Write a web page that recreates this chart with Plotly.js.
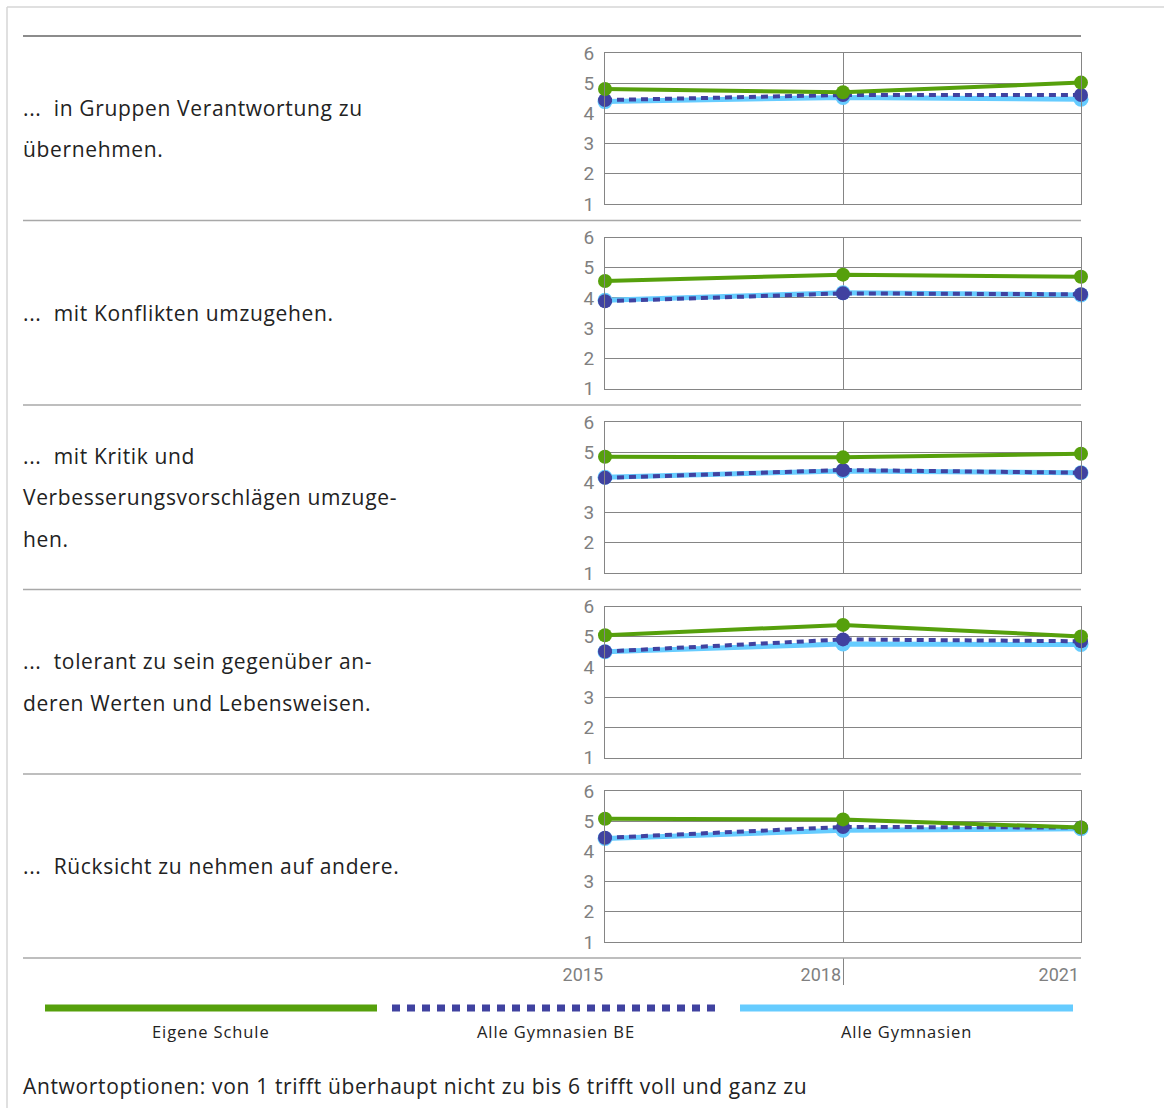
<!DOCTYPE html>
<html>
<head>
<meta charset="utf-8">
<script src="https://cdn.plot.ly/plotly-3.0.1.min.js"></script>
<style>
  html, body { margin: 0; padding: 0; background: #fff; }
  #chart { width: 1164px; height: 1108px; }
</style>
</head>
<body>
<div id="chart"></div>
<script>
// ---------- DATA ----------
const years = [2015, 2018, 2021];
const yTicks = [1, 2, 3, 4, 5, 6];
const seriesNames = ["Eigene Schule", "Alle Gymnasien BE", "Alle Gymnasien"];
const itemLabels = [
  ["...\u00a0\u00a0in Gruppen Verantwortung zu", "übernehmen."],
  ["...\u00a0\u00a0mit Konflikten umzugehen."],
  ["...\u00a0\u00a0mit Kritik und", "Verbesserungsvorschlägen umzuge-", "hen."],
  ["...\u00a0\u00a0tolerant zu sein gegenüber an-", "deren Werten und Lebensweisen."],
  ["...\u00a0\u00a0Rücksicht zu nehmen auf andere."]
];
const eigeneSchule = [
  [4.81, 4.70, 5.02],
  [4.56, 4.77, 4.70],
  [4.85, 4.83, 4.95],
  [5.05, 5.39, 5.01],
  [5.08, 5.06, 4.79]
];
const alleGymBE = [
  [4.44, 4.61, 4.61],
  [3.89, 4.15, 4.12],
  [4.15, 4.41, 4.32],
  [4.51, 4.91, 4.85],
  [4.45, 4.81, 4.79]
];
const alleGym = [
  [4.39, 4.53, 4.47],
  [3.92, 4.17, 4.10],
  [4.17, 4.38, 4.32],
  [4.50, 4.76, 4.74],
  [4.43, 4.70, 4.75]
];
const footnote = "Antwortoptionen: von 1 trifft überhaupt nicht zu bis 6 trifft voll und ganz zu";

// ---------- STYLE / LAYOUT ----------
const W = 1164, H = 1108;
const px = v => v / W;
const py = v => 1 - v / H;
const colors = ["#56a00c", "#4042a0", "#66ccff"];
const FONT = "'Open Sans', Roboto, sans-serif";
const TICKFONT = "Roboto, 'Open Sans', sans-serif";
const gridCol = "#858585";
const spaced = (t, ls) => '<span style="letter-spacing:' + ls + 'px">' + t + '</span>';

const plotLeft = 605, plotRight = 1081;
const panelTops = [53, 237.5, 422, 606.5, 791];
const panelH = 151;
const separators = [36, 220.5, 405, 589.5, 774, 958];
const textLeft = 21;

const traces = [];
const layout = {
  width: W, height: H,
  margin: {l: 0, r: 0, t: 0, b: 0},
  paper_bgcolor: "#fff",
  plot_bgcolor: "#fff",
  showlegend: false,
  font: {family: FONT, color: "#222"},
  shapes: [],
  annotations: []
};

panelTops.forEach((top, i) => {
  const n = i + 1;
  const xa = "x" + n, ya = "y" + n;
  const xk = "xaxis" + (n === 1 ? "" : n), yk = "yaxis" + (n === 1 ? "" : n);
  layout[xk] = {
    domain: [px(plotLeft), px(plotRight)],
    anchor: ya,
    range: [2015, 2021],
    tickvals: years,
    showticklabels: false,
    showgrid: true, gridcolor: gridCol, gridwidth: 1,
    showline: true, linecolor: gridCol, linewidth: 1, mirror: true,
    zeroline: false, ticks: "", fixedrange: true
  };
  layout[yk] = {
    domain: [py(top + panelH), py(top)],
    anchor: xa,
    range: [1, 6],
    tickvals: yTicks,
    ticktext: yTicks.map(String),
    showgrid: true, gridcolor: gridCol, gridwidth: 1,
    showline: true, linecolor: gridCol, linewidth: 1, mirror: true,
    zeroline: false, ticks: "",
    ticklabelstandoff: 6,
    tickfont: {family: TICKFONT, size: 19, color: "#808080"},
    fixedrange: true
  };
  traces.push({
    x: years, y: alleGym[i], xaxis: xa, yaxis: ya,
    type: "scatter", mode: "lines+markers", name: seriesNames[2],
    line: {color: colors[2], width: 5},
    marker: {color: colors[2], size: 15},
    cliponaxis: false, hoverinfo: "skip"
  });
  traces.push({
    x: years, y: alleGymBE[i], xaxis: xa, yaxis: ya,
    type: "scatter", mode: "lines+markers", name: seriesNames[1],
    line: {color: colors[1], width: 4, dash: "7px,5px"},
    marker: {color: colors[1], size: 14},
    cliponaxis: false, hoverinfo: "skip"
  });
  traces.push({
    x: years, y: eigeneSchule[i], xaxis: xa, yaxis: ya,
    type: "scatter", mode: "lines+markers", name: seriesNames[0],
    line: {color: colors[0], width: 4},
    marker: {color: colors[0], size: 14},
    cliponaxis: false, hoverinfo: "skip"
  });

  const rowMid = (separators[i] + separators[i + 1]) / 2;
  const lines = itemLabels[i];
  const lh = 41.5;
  lines.forEach((t, k) => {
    const yc = rowMid + (k - (lines.length - 1) / 2) * lh;
    layout.annotations.push({
      xref: "paper", yref: "paper", x: px(textLeft), y: py(yc),
      xanchor: "left", yanchor: "middle", showarrow: false,
      text: spaced(t, 0.65), font: {family: FONT, size: 21, color: "#222"}
    });
  });
});

// Year axis strip (below last separator)
layout.xaxis6 = {
  domain: [px(plotLeft), px(plotRight)],
  anchor: "y6",
  side: "top",
  range: [2015, 2021],
  tickvals: years,
  ticktext: years.map(String),
  showgrid: true, gridcolor: gridCol, gridwidth: 1,
  showline: false, zeroline: false, ticks: "",
  ticklabelposition: "inside left",
  ticklabeloverflow: "allow",
  ticklabelstandoff: 4,
  ticklabelshift: -2,
  tickfont: {family: TICKFONT, size: 18, color: "#808080"},
  fixedrange: true
};
layout.yaxis6 = {
  domain: [py(985), py(958)],
  anchor: "x6",
  range: [0, 1],
  showgrid: false, showline: false, zeroline: false,
  showticklabels: false, ticks: "", fixedrange: true
};
traces.push({x: [], y: [], xaxis: "x6", yaxis: "y6", type: "scatter", mode: "lines", showlegend: false, hoverinfo: "skip"});

separators.forEach((s, i) => {
  layout.shapes.push({
    type: "line", xref: "paper", yref: "paper",
    x0: px(23), x1: px(plotRight), y0: py(s), y1: py(s),
    line: {color: i === 0 ? "#666" : "#a8a8a8", width: 1.3}
  });
});

layout.shapes.push({type: "line", xref: "paper", yref: "paper", x0: px(7), x1: 1, y0: py(7), y1: py(7), line: {color: "#d6d6d6", width: 1.5}});
layout.shapes.push({type: "line", xref: "paper", yref: "paper", x0: px(7), x1: px(7), y0: py(7), y1: 0, line: {color: "#d6d6d6", width: 1.5}});

const legendSegs = [[45, 377], [392, 720], [740, 1073]];
const legendDash = ["solid", "8px,7px", "solid"];
legendSegs.forEach((seg, k) => {
  layout.shapes.push({
    type: "line", xref: "paper", yref: "paper",
    x0: px(seg[0]), x1: px(seg[1]), y0: py(1008), y1: py(1008),
    line: {color: colors[k], width: 7, dash: legendDash[k]}
  });
  layout.annotations.push({
    xref: "paper", yref: "paper", x: px((seg[0] + seg[1]) / 2), y: py(1031),
    xanchor: "center", yanchor: "middle", showarrow: false,
    text: spaced(seriesNames[k], 0.9), font: {family: FONT, size: 16.5, color: "#222"}
  });
});

layout.annotations.push({
  xref: "paper", yref: "paper", x: px(textLeft), y: py(1086),
  xanchor: "left", yanchor: "middle", showarrow: false,
  text: spaced(footnote, 0.65), font: {family: FONT, size: 21, color: "#222"}
});

Plotly.newPlot("chart", traces, layout, {displayModeBar: false, staticPlot: true});
</script>
</body>
</html>
